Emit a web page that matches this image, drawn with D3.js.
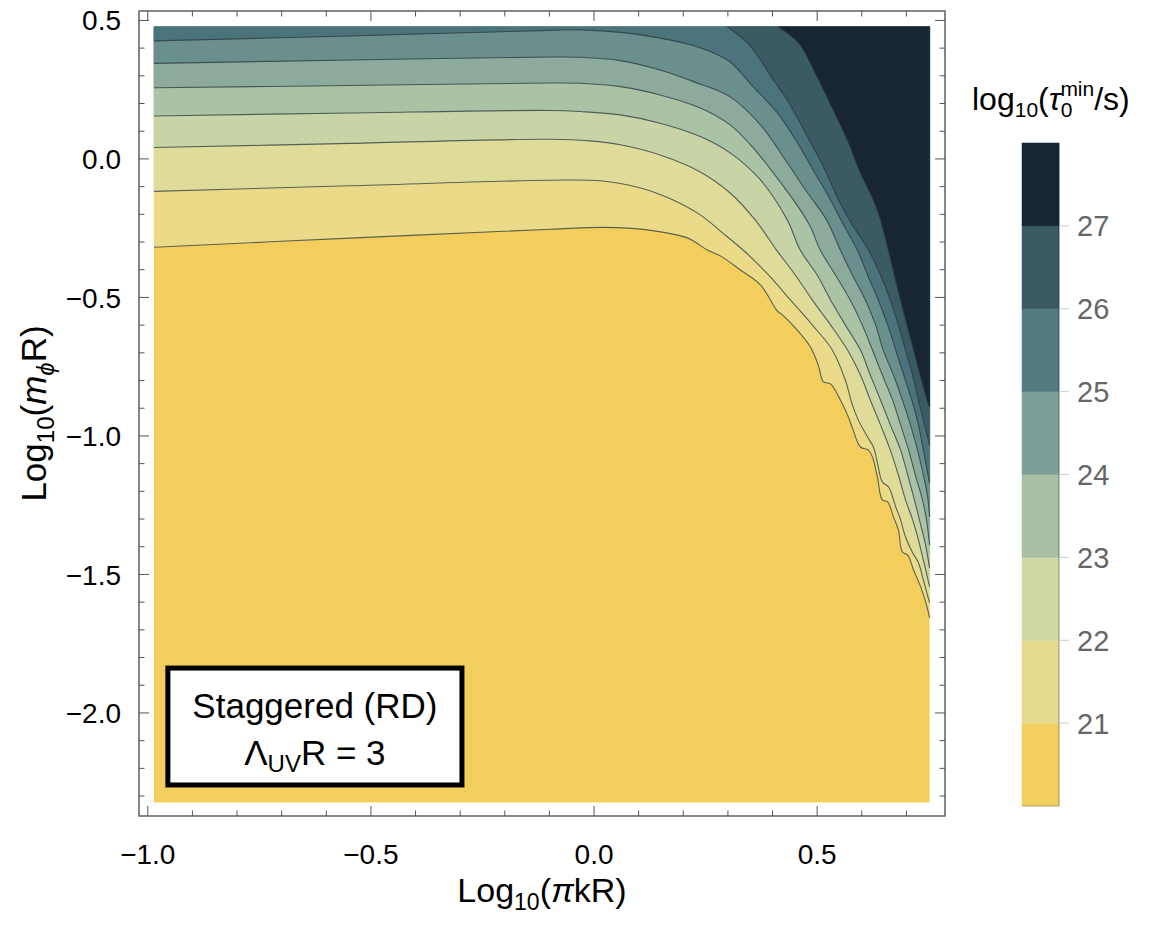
<!DOCTYPE html>
<html>
<head>
<meta charset="utf-8">
<script src="https://cdn.jsdelivr.net/npm/d3@7"></script>
<style>
  html, body { margin: 0; padding: 0; background: #fff; }
  svg { display: block; font-family: "Liberation Sans", Arial, sans-serif; }
</style>
</head>
<body>
<svg id="chart" width="1150" height="938"></svg>
<script>
// ---------------- data ----------------
// sampled region of the contour plot (log10(pi k R), log10(m_phi R))
const dataXExtent = [-0.986, 0.752];
const dataYExtent = [-2.323, 0.477];
// frame (plot range incl. padding)
const frameXDomain = [-1.0197, 0.7865];
const frameYDomain = [-2.372, 0.534];

// band colours, lowest value to highest value
const bandColors = ["#f3ce5c", "#ebda87", "#dfdc9a", "#c8d4a5", "#abc3a5",
                    "#8cab9c", "#6a908e", "#4b737b", "#3b5b64", "#172535"];

// contour lines, lowest level (L1) to highest (L9): [log10(pi k R), log10(m_phi R)]
const contour1 = [[-0.986,-0.319],[-0.547,-0.286],[-0.098,-0.254],[0.025,-0.247],[0.119,-0.256],[0.209,-0.285],[0.254,-0.329],[0.283,-0.350],[0.328,-0.401],[0.373,-0.455],[0.411,-0.549],[0.422,-0.563],[0.451,-0.610],[0.485,-0.679],[0.503,-0.747],[0.514,-0.805],[0.530,-0.812],[0.552,-0.870],[0.568,-0.924],[0.579,-0.971],[0.597,-1.040],[0.615,-1.051],[0.624,-1.076],[0.635,-1.148],[0.646,-1.231],[0.658,-1.238],[0.671,-1.292],[0.682,-1.339],[0.691,-1.419],[0.703,-1.430],[0.716,-1.484],[0.732,-1.545],[0.745,-1.610],[0.752,-1.657]];
const contour2 = [[-0.986,-0.117],[-0.547,-0.097],[-0.098,-0.077],[0.014,-0.079],[0.104,-0.105],[0.171,-0.144],[0.238,-0.202],[0.288,-0.267],[0.339,-0.336],[0.391,-0.419],[0.440,-0.509],[0.489,-0.599],[0.534,-0.690],[0.563,-0.798],[0.579,-0.888],[0.592,-0.942],[0.613,-1.004],[0.626,-1.040],[0.635,-1.097],[0.646,-1.166],[0.660,-1.184],[0.676,-1.256],[0.687,-1.303],[0.698,-1.365],[0.714,-1.422],[0.727,-1.458],[0.738,-1.520],[0.752,-1.603]];
const contour3 = [[-0.986,0.041],[-0.547,0.056],[-0.098,0.071],[-0.009,0.065],[0.059,0.051],[0.148,0.014],[0.238,-0.047],[0.305,-0.123],[0.361,-0.220],[0.409,-0.329],[0.451,-0.419],[0.489,-0.509],[0.530,-0.599],[0.568,-0.690],[0.597,-0.780],[0.619,-0.870],[0.642,-0.960],[0.664,-1.051],[0.682,-1.141],[0.698,-1.231],[0.714,-1.303],[0.727,-1.375],[0.738,-1.448],[0.752,-1.545]];
const contour4 = [[-0.986,0.155],[-0.547,0.166],[-0.098,0.175],[-0.031,0.171],[0.059,0.159],[0.148,0.129],[0.238,0.081],[0.305,0.022],[0.373,-0.076],[0.433,-0.220],[0.462,-0.329],[0.500,-0.419],[0.530,-0.509],[0.563,-0.599],[0.597,-0.690],[0.619,-0.780],[0.642,-0.870],[0.664,-0.960],[0.687,-1.051],[0.703,-1.141],[0.718,-1.231],[0.732,-1.321],[0.743,-1.394],[0.752,-1.477]];
const contour5 = [[-0.986,0.257],[-0.547,0.265],[-0.098,0.274],[-0.031,0.273],[0.059,0.261],[0.148,0.231],[0.238,0.184],[0.305,0.123],[0.361,0.032],[0.417,-0.083],[0.462,-0.184],[0.485,-0.245],[0.507,-0.329],[0.541,-0.419],[0.574,-0.509],[0.601,-0.599],[0.624,-0.690],[0.646,-0.780],[0.669,-0.870],[0.687,-0.960],[0.705,-1.051],[0.720,-1.141],[0.736,-1.231],[0.745,-1.303],[0.752,-1.394]];
const contour6 = [[-0.986,0.345],[-0.547,0.357],[-0.098,0.368],[-0.031,0.367],[0.059,0.355],[0.148,0.321],[0.223,0.279],[0.305,0.224],[0.373,0.123],[0.429,-0.004],[0.474,-0.112],[0.521,-0.220],[0.552,-0.329],[0.579,-0.419],[0.608,-0.509],[0.631,-0.599],[0.648,-0.690],[0.671,-0.780],[0.691,-0.870],[0.709,-0.960],[0.725,-1.051],[0.738,-1.141],[0.747,-1.213],[0.752,-1.292]];
const contour7 = [[-0.986,0.426],[-0.547,0.444],[-0.150,0.462],[-0.031,0.466],[0.066,0.456],[0.148,0.436],[0.216,0.412],[0.267,0.383],[0.305,0.350],[0.357,0.260],[0.411,0.166],[0.456,0.058],[0.491,-0.040],[0.530,-0.148],[0.559,-0.238],[0.590,-0.329],[0.613,-0.419],[0.637,-0.509],[0.658,-0.599],[0.676,-0.690],[0.694,-0.780],[0.712,-0.870],[0.727,-0.960],[0.738,-1.051],[0.752,-1.170]];
const contour8 = [[0.299,0.477],[0.344,0.419],[0.373,0.357],[0.402,0.285],[0.433,0.213],[0.462,0.130],[0.491,0.043],[0.521,-0.051],[0.548,-0.148],[0.579,-0.238],[0.615,-0.329],[0.642,-0.419],[0.664,-0.509],[0.682,-0.599],[0.698,-0.690],[0.714,-0.780],[0.727,-0.870],[0.738,-0.942],[0.752,-1.032]];
const contour9 = [[0.413,0.477],[0.438,0.448],[0.462,0.412],[0.498,0.303],[0.536,0.177],[0.568,0.068],[0.597,-0.051],[0.626,-0.148],[0.642,-0.220],[0.687,-0.509],[0.750,-0.888],[0.752,-0.895]];
const contours = [contour1, contour2, contour3, contour4, contour5, contour6, contour7, contour8, contour9];

// ticks
const xMajorTicks = [-1.0, -0.5, 0.0, 0.5];
const xTickLabels = ["\u22121.0", "\u22120.5", "0.0", "0.5"];
const yMajorTicks = [0.5, 0.0, -0.5, -1.0, -1.5, -2.0];
const yTickLabels = ["0.5", "0.0", "\u22120.5", "\u22121.0", "\u22121.5", "\u22122.0"];
const xMinorTicks = d3.range(-10, 8).map(i => i / 10);
const yMinorTicks = d3.range(-23, 6).map(i => i / 10);

// legend
const legendBreaks = [20, 21, 22, 23, 24, 25, 26, 27, 28];
const legendColors = ["#f3cf5f", "#e6da8f", "#cdd8a4", "#a8bfa3", "#7c9f98", "#537a80", "#3a5a63", "#172535"];
const legendTicks = [21, 22, 23, 24, 25, 26, 27];

// annotation box (in data coordinates)
const annotBox = { x0: -0.955, x1: -0.296, y0: -1.838, y1: -2.260 };

// ---------------- drawing ----------------
const svg = d3.select("#chart");
const W = 1150, H = 938;
svg.append("rect").attr("width", W).attr("height", H).attr("fill", "#fff");

const frame = { left: 139, right: 945, top: 11, bottom: 816 };
const x = d3.scaleLinear().domain(frameXDomain).range([frame.left, frame.right]);
const y = d3.scaleLinear().domain(frameYDomain).range([frame.bottom, frame.top]);

const plot = svg.append("g");
// base band
plot.append("rect")
  .attr("x", x(dataXExtent[0])).attr("y", y(dataYExtent[1]))
  .attr("width", x(dataXExtent[1]) - x(dataXExtent[0]))
  .attr("height", y(dataYExtent[0]) - y(dataYExtent[1]))
  .attr("fill", bandColors[0]);

const line = d3.line().x(d => x(d[0])).y(d => y(d[1])).curve(d3.curveCatmullRom.alpha(0.5));

// region above each contour line
function regionPath(pts) {
  let d = line(pts);
  d += "L" + x(dataXExtent[1]) + "," + y(dataYExtent[1]);
  if (Math.abs(pts[0][0] - dataXExtent[0]) < 1e-6) {
    d += "L" + x(dataXExtent[0]) + "," + y(dataYExtent[1]);
  }
  return d + "Z";
}
contours.forEach((c, i) => {
  plot.append("path").attr("d", regionPath(c)).attr("fill", bandColors[i + 1])
    .attr("stroke", bandColors[i + 1]).attr("stroke-width", 0.5);
});
contours.forEach(c => {
  plot.append("path").attr("d", line(c)).attr("fill", "none")
    .attr("stroke", "#2c3a3e").attr("stroke-opacity", 0.75).attr("stroke-width", 1.1);
});

// frame
const frameColor = "#555";
svg.append("rect").attr("x", frame.left).attr("y", frame.top)
  .attr("width", frame.right - frame.left).attr("height", frame.bottom - frame.top)
  .attr("fill", "none").attr("stroke", frameColor).attr("stroke-width", 1.4);

const ticks = svg.append("g").attr("stroke", frameColor).attr("stroke-width", 1);
const isMajor = (v, arr) => arr.some(m => Math.abs(m - v) < 1e-9);
xMinorTicks.forEach(v => {
  const L = isMajor(v, xMajorTicks) ? 10 : 5.5;
  ticks.append("line").attr("x1", x(v)).attr("x2", x(v)).attr("y1", frame.bottom).attr("y2", frame.bottom - L);
  ticks.append("line").attr("x1", x(v)).attr("x2", x(v)).attr("y1", frame.top).attr("y2", frame.top + L);
});
yMinorTicks.forEach(v => {
  const L = isMajor(v, yMajorTicks) ? 10 : 5.5;
  ticks.append("line").attr("y1", y(v)).attr("y2", y(v)).attr("x1", frame.left).attr("x2", frame.left + L);
  ticks.append("line").attr("y1", y(v)).attr("y2", y(v)).attr("x1", frame.right).attr("x2", frame.right - L);
});

// tick labels
const tickFont = 28;
xMajorTicks.forEach((v, i) => {
  svg.append("text").attr("x", x(v)).attr("y", 864).attr("text-anchor", "middle")
    .attr("font-size", tickFont).attr("fill", "#000").text(xTickLabels[i]);
});
yMajorTicks.forEach((v, i) => {
  svg.append("text").attr("x", 121).attr("y", y(v)).attr("dy", "0.36em").attr("text-anchor", "end")
    .attr("font-size", tickFont).attr("fill", "#000").text(yTickLabels[i]);
});

// axis labels
const xl = svg.append("text").attr("x", (frame.left + frame.right) / 2).attr("y", 902)
  .attr("text-anchor", "middle").attr("font-size", 34).attr("fill", "#000");
xl.append("tspan").text("Log");
xl.append("tspan").attr("font-size", 23).attr("dy", 8).text("10");
xl.append("tspan").attr("dy", -8).text("(");
xl.append("tspan").attr("font-style", "italic").text("\u03c0");
xl.append("tspan").text("kR)");

const yl = svg.append("text")
  .attr("transform", `translate(46,${(frame.top + frame.bottom) / 2}) rotate(-90)`)
  .attr("text-anchor", "middle").attr("font-size", 35).attr("fill", "#000");
yl.append("tspan").text("Log");
yl.append("tspan").attr("font-size", 24).attr("dy", 8).text("10");
yl.append("tspan").attr("dy", -8).text("(");
yl.append("tspan").attr("font-style", "italic").text("m");
yl.append("tspan").attr("font-style", "italic").attr("font-size", 24).attr("dy", 8).text("\u03d5");
yl.append("tspan").attr("dy", -8).text("R)");

// annotation box
svg.append("rect")
  .attr("x", x(annotBox.x0)).attr("y", y(annotBox.y0))
  .attr("width", x(annotBox.x1) - x(annotBox.x0))
  .attr("height", y(annotBox.y1) - y(annotBox.y0))
  .attr("fill", "#fff").attr("stroke", "#000").attr("stroke-width", 5);
const cx = (x(annotBox.x0) + x(annotBox.x1)) / 2;
svg.append("text").attr("x", cx).attr("y", 718).attr("text-anchor", "middle")
  .attr("font-size", 35).attr("fill", "#000").text("Staggered (RD)");
const t2 = svg.append("text").attr("x", cx).attr("y", 765).attr("text-anchor", "middle")
  .attr("font-size", 35).attr("fill", "#000");
t2.append("tspan").text("\u039b");
t2.append("tspan").attr("font-size", 24).attr("dy", 7).text("UV");
t2.append("tspan").attr("dy", -7).text("R = 3");

// legend
const lg = { x: 1022, w: 37 };
const ly = d3.scaleLinear().domain([20, 28]).range([806, 143]);
legendColors.forEach((c, i) => {
  svg.append("rect").attr("x", lg.x).attr("y", ly(legendBreaks[i + 1]))
    .attr("width", lg.w).attr("height", ly(legendBreaks[i]) - ly(legendBreaks[i + 1]))
    .attr("fill", c).attr("stroke", c).attr("stroke-width", 0.5);
});
svg.append("line").attr("x1", lg.x + lg.w).attr("x2", lg.x + lg.w)
  .attr("y1", ly(28)).attr("y2", ly(20)).attr("stroke", "#000").attr("stroke-opacity", 0.35);
svg.append("line").attr("x1", lg.x).attr("x2", lg.x + lg.w)
  .attr("y1", ly(20)).attr("y2", ly(20)).attr("stroke", "#000").attr("stroke-opacity", 0.25);
legendTicks.forEach(v => {
  svg.append("line").attr("x1", lg.x + lg.w).attr("x2", lg.x + lg.w + 10)
    .attr("y1", ly(v)).attr("y2", ly(v)).attr("stroke", "#ccc").attr("stroke-width", 1);
  svg.append("text").attr("x", 1077).attr("y", ly(v)).attr("dy", "0.36em")
    .attr("font-size", 29).attr("fill", "#666").text(v);
});
const lt = svg.append("text").attr("x", 972).attr("y", 110).attr("font-size", 32).attr("fill", "#000");
lt.append("tspan").text("log");
lt.append("tspan").attr("font-size", 21).attr("dy", 7).text("10");
lt.append("tspan").attr("dy", -7).text("(");
lt.append("tspan").attr("font-style", "italic").text("\u03c4");
lt.append("tspan").attr("font-size", 21).attr("dy", 7).text("0");
lt.append("tspan").attr("font-size", 21).attr("dx", -12).attr("dy", -21).text("min");
lt.append("tspan").attr("dy", 14).text("/s)");
</script>
</body>
</html>
